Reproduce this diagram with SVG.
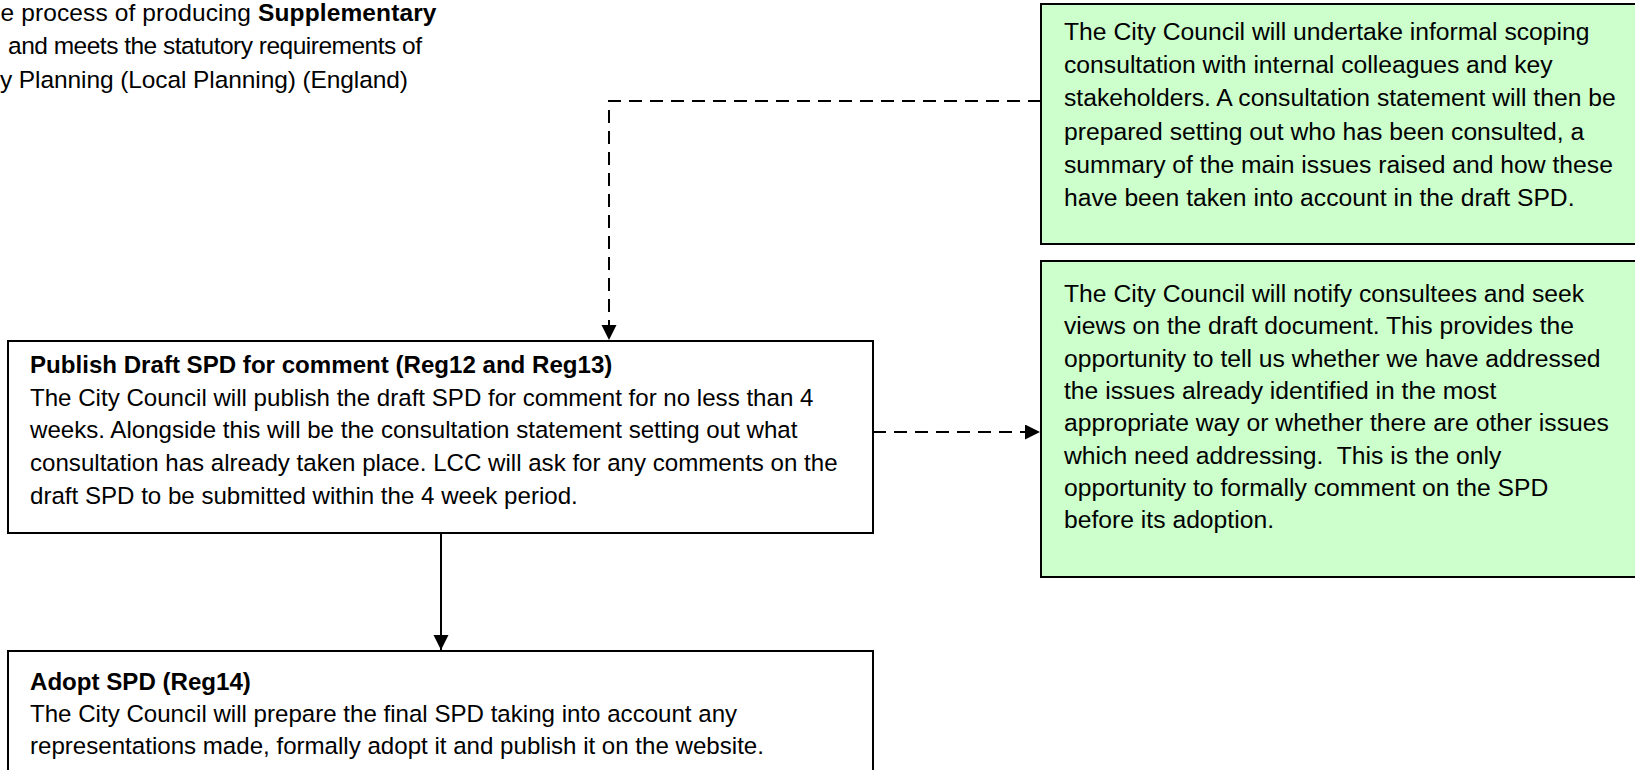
<svg xmlns="http://www.w3.org/2000/svg" width="1635" height="770" viewBox="0 0 1635 770">
<style>
.box{fill:#ffffff;stroke:#000000;stroke-width:2}
.gbox{fill:#CCFFCC;stroke:#000000;stroke-width:2}
.t{font-family:"Liberation Sans",Arial,sans-serif;fill:#000000;white-space:pre}
.tw{font-size:24.1px}
.tg{font-size:24.7px}
.th{font-size:24.5px}
.b{font-weight:bold}
.conn{fill:none;stroke:#000000;stroke-width:2}
.dash{stroke-dasharray:13 8}
</style>
<defs>
<marker id="arrow" markerUnits="userSpaceOnUse" markerWidth="16" markerHeight="16" refX="15" refY="7.5" orient="auto">
<path d="M0,0 L15,7.5 L0,15 Z" fill="#000000"/>
</marker>
</defs>

<g id="header">
<text class="t th" x="0.5" y="21" textLength="436">e process of producing <tspan class="b">Supplementary</tspan></text>
<text class="t th" x="8" y="54" textLength="414">and meets the statutory requirements of</text>
<text class="t th" x="0" y="88" textLength="408">y Planning (Local Planning) (England)</text>
</g>

<g id="scoping">
<rect class="gbox" x="1041" y="4" width="620" height="240"/>
<text class="t tg" x="1064" y="40">The City Council will undertake informal scoping</text>
<text class="t tg" x="1064" y="73.2">consultation with internal colleagues and key</text>
<text class="t tg" x="1064" y="106.4">stakeholders. A consultation statement will then be</text>
<text class="t tg" x="1064" y="139.6">prepared setting out who has been consulted, a</text>
<text class="t tg" x="1064" y="172.8">summary of the main issues raised and how these</text>
<text class="t tg" x="1064" y="206">have been taken into account in the draft SPD.</text>
</g>

<g id="notify">
<rect class="gbox" x="1041" y="261" width="620" height="316"/>
<text class="t tg" x="1064" y="302">The City Council will notify consultees and seek</text>
<text class="t tg" x="1064" y="334.3">views on the draft document. This provides the</text>
<text class="t tg" x="1064" y="366.6">opportunity to tell us whether we have addressed</text>
<text class="t tg" x="1064" y="398.9">the issues already identified in the most</text>
<text class="t tg" x="1064" y="431.2">appropriate way or whether there are other issues</text>
<text class="t tg" x="1064" y="463.5">which need addressing.  This is the only</text>
<text class="t tg" x="1064" y="495.8">opportunity to formally comment on the SPD</text>
<text class="t tg" x="1064" y="528.1">before its adoption.</text>
</g>

<g id="publish">
<rect class="box" x="8" y="341" width="865" height="192"/>
<text class="t tw b" x="30" y="372.7">Publish Draft SPD for comment (Reg12 and Reg13)</text>
<text class="t tw" x="30" y="405.5">The City Council will publish the draft SPD for comment for no less than 4</text>
<text class="t tw" x="30" y="438.3">weeks. Alongside this will be the consultation statement setting out what</text>
<text class="t tw" x="30" y="471.1">consultation has already taken place. LCC will ask for any comments on the</text>
<text class="t tw" x="30" y="503.9">draft SPD to be submitted within the 4 week period.</text>
</g>

<g id="adopt">
<rect class="box" x="8" y="651" width="865" height="140"/>
<text class="t tw b" x="30" y="690">Adopt SPD (Reg14)</text>
<text class="t tw" x="30" y="722">The City Council will prepare the final SPD taking into account any</text>
<text class="t tw" x="30" y="754">representations made, formally adopt it and publish it on the website.</text>
</g>

<g id="connectors">
<path class="conn dash" d="M1041,101 H609 V340" marker-end="url(#arrow)"/>
<path class="conn dash" d="M873,432 H1040" marker-end="url(#arrow)"/>
<path class="conn" d="M441,533 V650" marker-end="url(#arrow)"/>
</g>
</svg>
